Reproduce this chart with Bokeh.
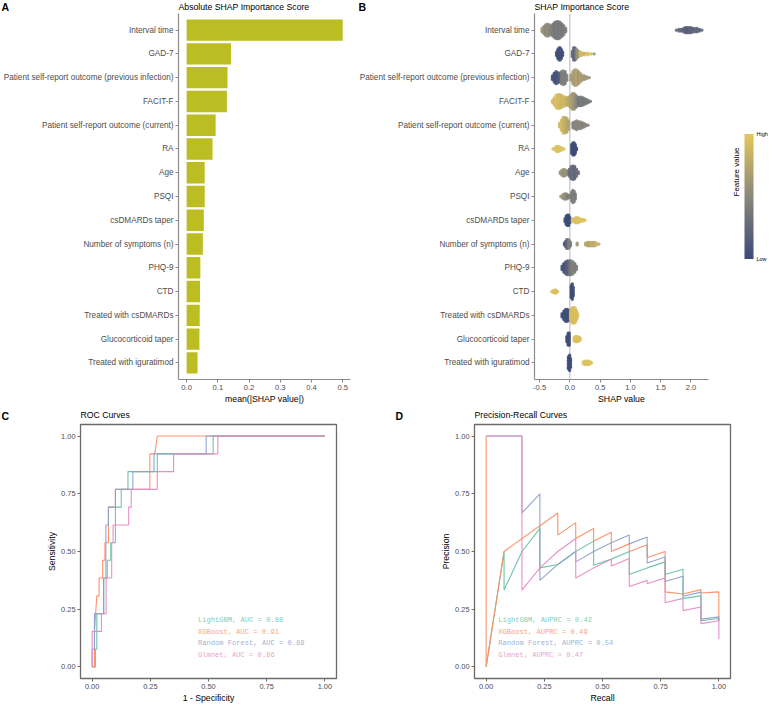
import math
from bokeh.plotting import figure
from bokeh.models import (FactorRange, Range1d, FixedTicker, PrintfTickFormatter,
                          Label, Span, ColorBar, LinearColorMapper, ColumnDataSource, CategoricalAxis)
from bokeh.layouts import column, row
from bokeh.embed import file_html
from bokeh.resources import INLINE
from bokeh.core.properties import value

FONT = "Liberation Sans"
MONO = "Liberation Mono"

# ---------------- data ----------------
features = ["Interval time", "GAD-7", "Patient self-report outcome (previous infection)",
            "FACIT-F", "Patient self-report outcome (current)", "RA", "Age", "PSQI",
            "csDMARDs taper", "Number of symptoms (n)", "PHQ-9", "CTD",
            "Treated with csDMARDs", "Glucocorticoid taper", "Treated with iguratimod"]
importance = [0.500, 0.142, 0.131, 0.129, 0.093, 0.083, 0.058, 0.058, 0.055, 0.052,
              0.044, 0.043, 0.042, 0.041, 0.035]
imp_ticks = [0.0, 0.1, 0.2, 0.3, 0.4, 0.5]
shap_ticks = [-0.5, 0.0, 0.5, 1.0, 1.5, 2.0]

panel_letters = ["A", "B", "C", "D"]
panel_titles = ["Absolute SHAP Importance Score", "SHAP Importance Score",
                "ROC Curves", "Precision-Recall Curves"]

# beeswarm: (SHAP value, number of stacked samples, scaled feature value)
sw_interval = [(-0.46, 3, 0.6), (-0.43, 5, 0.55), (-0.40, 7, 0.5), (-0.37, 8, 0.55), (-0.34, 7, 0.5),
               (-0.31, 6, 0.45), (-0.28, 8, 0.4), (-0.25, 10, 0.35), (-0.22, 11, 0.4), (-0.19, 11, 0.35),
               (-0.16, 10, 0.4), (-0.13, 8, 0.35), (-0.10, 6, 0.4), (-0.07, 3, 0.4),
               (1.76, 1, 0.25), (1.80, 2, 0.25), (1.84, 2, 0.2), (1.88, 3, 0.2), (1.91, 4, 0.2),
               (1.94, 4, 0.15), (1.97, 4, 0.2), (2.00, 4, 0.2), (2.03, 3, 0.2), (2.06, 3, 0.25),
               (2.10, 3, 0.2), (2.14, 2, 0.2), (2.18, 1, 0.25)]
sw_gad7 = [(-0.22, 3, 0.05), (-0.20, 6, 0.05), (-0.18, 8, 0.05), (-0.16, 8, 0.05), (-0.14, 6, 0.05),
           (-0.12, 3, 0.05), (0.04, 4, 0.2), (0.06, 8, 0.3), (0.08, 8, 0.2), (0.10, 7, 0.4),
           (0.12, 5, 0.6), (0.14, 4, 0.5), (0.16, 3, 0.8), (0.18, 3, 0.9), (0.21, 2, 0.9),
           (0.24, 2, 0.85), (0.27, 1, 0.9), (0.30, 2, 0.95), (0.35, 1, 0.9), (0.40, 1, 0.6)]
sw_prev = [(-0.29, 3, 0.05), (-0.26, 6, 0.05), (-0.23, 8, 0.05), (-0.20, 7, 0.1), (-0.17, 6, 0.15),
           (-0.14, 8, 0.4), (-0.11, 9, 0.45), (-0.08, 8, 0.4), (-0.05, 4, 0.45),
           (0.02, 4, 0.6), (0.05, 8, 0.7), (0.08, 10, 0.65), (0.11, 10, 0.75), (0.14, 8, 0.6),
           (0.17, 6, 0.7), (0.20, 4, 0.65), (0.24, 3, 0.6), (0.28, 2, 0.6), (0.32, 1, 0.6)]
sw_facit = [(-0.29, 2, 0.9), (-0.26, 5, 0.9), (-0.23, 8, 0.95), (-0.20, 9, 0.9), (-0.17, 9, 0.9),
            (-0.14, 8, 0.85), (-0.11, 7, 0.9), (-0.08, 6, 0.85), (-0.05, 5, 0.8), (-0.02, 6, 0.75),
            (0.01, 8, 0.7), (0.04, 10, 0.65), (0.07, 10, 0.6), (0.10, 8, 0.5), (0.13, 6, 0.4),
            (0.16, 6, 0.35), (0.19, 6, 0.4), (0.22, 5, 0.35), (0.25, 4, 0.4), (0.28, 3, 0.35),
            (0.31, 2, 0.4), (0.34, 1, 0.4)]
sw_current = [(-0.17, 3, 0.85), (-0.14, 7, 0.9), (-0.11, 10, 0.85), (-0.08, 10, 0.8), (-0.05, 9, 0.75),
              (-0.02, 6, 0.7), (0.05, 4, 0.45), (0.08, 5, 0.45), (0.11, 6, 0.5), (0.14, 5, 0.45),
              (0.17, 5, 0.5), (0.20, 4, 0.45), (0.23, 3, 0.45), (0.26, 2, 0.5), (0.30, 1, 0.45)]
sw_ra = [(-0.28, 1, 0.95), (-0.25, 2, 0.95), (-0.22, 4, 0.95), (-0.19, 4, 0.95), (-0.16, 3, 0.95),
         (-0.13, 2, 0.95), (-0.10, 1, 0.95), (0.03, 6, 0.02), (0.05, 8, 0.02), (0.07, 8, 0.02),
         (0.09, 6, 0.02), (0.11, 2, 0.02)]
sw_age = [(-0.16, 2, 0.6), (-0.13, 4, 0.6), (-0.10, 5, 0.55), (-0.07, 4, 0.6), (-0.04, 3, 0.5),
          (-0.01, 5, 0.3), (0.02, 8, 0.25), (0.05, 9, 0.3), (0.08, 8, 0.2), (0.11, 5, 0.3), (0.14, 2, 0.3)]
sw_psqi = [(-0.15, 1, 0.6), (-0.12, 3, 0.65), (-0.09, 4, 0.55), (-0.06, 4, 0.5), (-0.03, 3, 0.4),
           (0.00, 2, 0.45), (0.03, 6, 0.4), (0.05, 8, 0.4), (0.07, 7, 0.45), (0.09, 4, 0.4)]
sw_csdm_taper = [(-0.08, 3, 0.02), (-0.06, 6, 0.02), (-0.04, 7, 0.02), (-0.02, 7, 0.02), (0.00, 4, 0.02),
                 (0.04, 2, 0.95), (0.07, 3, 0.95), (0.10, 4, 0.95), (0.13, 4, 0.95), (0.16, 3, 0.95),
                 (0.19, 2, 0.95), (0.22, 2, 0.95), (0.25, 1, 0.95)]
sw_symptoms = [(-0.09, 2, 0.1), (-0.07, 4, 0.15), (-0.05, 6, 0.2), (-0.03, 6, 0.35), (-0.01, 5, 0.45),
               (0.01, 3, 0.4), (0.12, 2, 0.6), (0.26, 2, 0.7), (0.29, 3, 0.75), (0.32, 3, 0.7),
               (0.35, 3, 0.8), (0.38, 3, 0.75), (0.41, 3, 0.8), (0.44, 2, 0.85), (0.48, 1, 0.8)]
sw_phq9 = [(-0.13, 3, 0.05), (-0.10, 6, 0.05), (-0.07, 8, 0.1), (-0.04, 9, 0.15), (-0.01, 9, 0.3),
           (0.02, 9, 0.4), (0.05, 8, 0.45), (0.08, 6, 0.4), (0.11, 3, 0.45)]
sw_ctd = [(-0.30, 1, 0.95), (-0.28, 2, 0.95), (-0.26, 2, 0.95), (-0.24, 3, 0.95), (-0.22, 2, 0.95),
          (-0.20, 1, 0.95), (0.02, 8, 0.02), (0.04, 10, 0.02), (0.055, 6, 0.02)]
sw_csdm = [(-0.13, 3, 0.02), (-0.10, 6, 0.02), (-0.07, 8, 0.02), (-0.04, 8, 0.02), (-0.01, 6, 0.02),
           (0.01, 6, 0.95), (0.03, 9, 0.9), (0.05, 10, 0.95), (0.07, 10, 0.9), (0.09, 9, 0.95),
           (0.11, 6, 0.9), (0.13, 3, 0.95)]
sw_gc_taper = [(-0.05, 4, 0.02), (-0.03, 8, 0.02), (-0.01, 8, 0.02), (0.07, 3, 0.95), (0.09, 4, 0.95),
               (0.11, 4, 0.95), (0.13, 4, 0.95), (0.15, 3, 0.95), (0.17, 2, 0.95)]
sw_igu = [(-0.025, 8, 0.02), (-0.005, 10, 0.02), (0.01, 6, 0.02), (0.22, 2, 0.95), (0.25, 3, 0.95),
          (0.28, 3, 0.95), (0.31, 3, 0.95), (0.34, 2, 0.95), (0.36, 1, 0.95)]

# ROC curves
roc_lgbm_fpr = [0, 0.014, 0.014, 0.02, 0.02, 0.05, 0.05, 0.065, 0.065, 0.08, 0.08, 0.1, 0.1, 0.125, 0.125,
                0.154, 0.154, 0.28, 0.28, 0.52, 0.52, 1.0]
roc_lgbm_tpr = [0, 0, 0.077, 0.077, 0.231, 0.231, 0.385, 0.385, 0.462, 0.462, 0.538, 0.538, 0.692, 0.692,
                0.769, 0.769, 0.846, 0.846, 0.923, 0.923, 1.0, 1.0]
roc_xgb_fpr = [0, 0.01, 0.01, 0.015, 0.02, 0.03, 0.03, 0.045, 0.045, 0.055, 0.055, 0.07, 0.07, 0.1, 0.1,
               0.248, 0.248, 0.269, 0.28, 1.0]
roc_xgb_tpr = [0, 0, 0.154, 0.231, 0.308, 0.308, 0.385, 0.385, 0.462, 0.462, 0.538, 0.538, 0.692, 0.692,
               0.769, 0.769, 0.923, 0.923, 1.0, 1.0]
roc_rf_fpr = [0, 0, 0.01, 0.01, 0.049, 0.049, 0.059, 0.059, 0.07, 0.07, 0.1, 0.1, 0.175, 0.175, 0.266,
              0.266, 0.49, 0.49, 1.0]
roc_rf_tpr = [0, 0.077, 0.077, 0.231, 0.231, 0.385, 0.385, 0.615, 0.615, 0.692, 0.692, 0.769, 0.769,
              0.846, 0.846, 0.923, 0.923, 1.0, 1.0]
roc_glm_fpr = [0, 0, 0.04, 0.04, 0.06, 0.06, 0.084, 0.084, 0.09, 0.09, 0.157, 0.157, 0.168, 0.168, 0.28,
               0.28, 0.35, 0.35, 0.54, 0.54, 1.0]
roc_glm_tpr = [0, 0.154, 0.154, 0.231, 0.231, 0.385, 0.385, 0.538, 0.538, 0.615, 0.615, 0.692, 0.692,
               0.769, 0.769, 0.846, 0.846, 0.923, 0.923, 1.0, 1.0]

# Precision-recall curves
pr_lgbm_rec = [0, 0.077, 0.077, 0.154, 0.231, 0.231, 0.308, 0.385, 0.462, 0.462, 0.538, 0.615, 0.615,
               0.692, 0.769, 0.769, 0.846, 0.846, 0.923, 0.923, 1.0, 1.0]
pr_lgbm_prec = [0, 0.5, 0.333, 0.5, 0.6, 0.429, 0.444, 0.5, 0.545, 0.44, 0.467, 0.5, 0.4,
                0.429, 0.455, 0.4, 0.423, 0.297, 0.308, 0.2, 0.21, 0.2]
pr_xgb_rec = [0, 0, 0.077, 0.308, 0.308, 0.385, 0.385, 0.462, 0.462, 0.538, 0.538, 0.615, 0.615, 0.692,
              0.692, 0.769, 0.769, 0.846, 0.923, 0.923, 1.0, 1.0]
pr_xgb_prec = [1.0, 0, 0.5, 0.667, 0.571, 0.625, 0.556, 0.6, 0.545, 0.583, 0.5, 0.533, 0.5, 0.529,
               0.474, 0.5, 0.325, 0.316, 0.335, 0.32, 0.325, 0.2]
pr_rf_rec = [0, 0.154, 0.154, 0.231, 0.231, 0.308, 0.385, 0.385, 0.462, 0.538, 0.615, 0.615, 0.692,
             0.692, 0.769, 0.769, 0.846, 0.846, 0.923, 0.923, 1.0, 1.0]
pr_rf_prec = [1.0, 1.0, 0.667, 0.75, 0.375, 0.444, 0.5, 0.455, 0.5, 0.538, 0.571, 0.533, 0.5625,
              0.45, 0.476, 0.37, 0.393, 0.306, 0.324, 0.207, 0.217, 0.2]
pr_glm_rec = [0, 0.154, 0.154, 0.231, 0.308, 0.385, 0.385, 0.462, 0.538, 0.538, 0.615, 0.615, 0.692,
              0.692, 0.769, 0.769, 0.846, 0.846, 0.923, 0.923, 1.0, 1.0]
pr_glm_prec = [1.0, 1.0, 0.333, 0.429, 0.5, 0.556, 0.385, 0.429, 0.467, 0.4375, 0.47, 0.348, 0.375,
               0.36, 0.385, 0.278, 0.297, 0.244, 0.26, 0.1875, 0.2, 0.12]

models = ["LightGBM", "XGBoost", "Random Forest", "Glmnet"]
auc = [0.88, 0.91, 0.89, 0.86]
auprc = [0.42, 0.49, 0.54, 0.47]
model_colors = ["#66C2A5", "#FC8D62", "#8DA0CB", "#E78AC3"]
unit_ticks = [0.0, 0.25, 0.5, 0.75, 1.0]

# ---------------- helpers ----------------
def ramp(stops, n=256):
    out = []
    for i in range(n):
        t = i / (n - 1) * (len(stops) - 1)
        j = min(int(t), len(stops) - 2)
        f = t - j
        a, b = stops[j], stops[j + 1]
        rgb = [round(int(a[1 + 2 * k:3 + 2 * k], 16) * (1 - f) + int(b[1 + 2 * k:3 + 2 * k], 16) * f)
               for k in range(3)]
        out.append("#%02x%02x%02x" % tuple(rgb))
    return out


AX_COL = "#8c8c8c"
TICK_TXT = "#4d4d4d"
W = 768


def style_axes(p, tick_size="7.6px"):
    for ax in (p.xaxis, p.yaxis):
        ax.axis_line_color = AX_COL
        ax.axis_line_width = 1.2
        ax.major_tick_line_color = AX_COL
        ax.major_tick_out = 3
        ax.major_tick_in = 0
        ax.minor_tick_line_color = None
        ax.major_label_text_color = TICK_TXT
        ax.major_label_text_font = FONT
        ax.major_label_text_font_size = tick_size
        ax.major_label_standoff = 2
        ax.axis_label_text_font = FONT
        ax.axis_label_text_font_size = "8.7px"
        ax.axis_label_text_font_style = "normal"
        ax.axis_label_text_color = "black"
        ax.axis_label_standoff = 1
    p.xgrid.visible = False
    p.ygrid.visible = False
    p.background_fill_color = "white"
    p.border_fill_color = "white"


def header(h, letter_x, title_x, letters, titles, ymid):
    p = figure(width=W, height=h, x_range=Range1d(0, W), y_range=Range1d(0, h),
               min_border=0, x_axis_type=None, y_axis_type=None,
               output_backend="svg", toolbar_location=None, tools="")
    p.outline_line_color = None
    p.xgrid.visible = False
    p.ygrid.visible = False
    p.text(x=letter_x, y=[ymid] * len(letters), text=letters, text_font=value(FONT),
           text_font_size=value("10.5px"), text_font_style="bold", text_color="black",
           text_baseline="middle", text_align="left")
    p.text(x=title_x, y=[ymid + 0.5] * len(titles), text=titles, text_font=value(FONT),
           text_font_size=value("8.7px"), text_color="black",
           text_baseline="middle", text_align="left")
    return p


FH1 = 366
FH2 = 254
feat_rev = list(reversed(features))

# ---------------- Panel A ----------------
pA = figure(y_range=FactorRange(factors=feat_rev, range_padding=0.2, range_padding_units="absolute"),
            x_range=Range1d(-0.026, 0.525), frame_width=172, frame_height=FH1,
            min_border_left=178, min_border_right=6, min_border_top=0, min_border_bottom=24,
            output_backend="svg", toolbar_location=None, tools="")
pA.hbar(y=features, left=0, right=importance, height=0.9, fill_color="#BCBD22", line_color=None)
style_axes(pA)
pA.yaxis.major_label_text_font_size = "8.2px"
pA.xaxis.ticker = FixedTicker(ticks=imp_ticks)
pA.xaxis.formatter = PrintfTickFormatter(format="%.1f")
pA.xaxis.axis_label = "mean(|SHAP value|)"
pA.outline_line_color = None

# ---------------- Panel B ----------------
stops = ["#3B4A78", "#8A877B", "#E4C75B"]
mapper = LinearColorMapper(palette=ramp(stops), low=0, high=1)

swarms = [sw_interval, sw_gad7, sw_prev, sw_facit, sw_current, sw_ra, sw_age, sw_psqi,
          sw_csdm_taper, sw_symptoms, sw_phq9, sw_ctd, sw_csdm, sw_gc_taper, sw_igu]
DY = 0.072
xs, ys, fvs = [], [], []
for feat, bins in zip(features, swarms):
    for s, n, fv in bins:
        for k in range(n):
            xs.append(s)
            ys.append((feat, (k - (n - 1) / 2) * DY))
            fvs.append(fv)
src = ColumnDataSource(dict(x=xs, y=ys, fv=fvs))

pB = figure(y_range=FactorRange(factors=feat_rev, range_padding=0.2, range_padding_units="absolute"),
            x_range=Range1d(-0.585, 2.29), frame_width=174, frame_height=FH1,
            min_border_left=178, min_border_right=60, min_border_top=0, min_border_bottom=24,
            output_backend="svg", toolbar_location=None, tools="")
pB.add_layout(Span(location=0, dimension="height", line_color="#b5b5b5", line_width=1, level="underlay"))
pB.scatter(x="x", y="y", source=src, size=3.3, fill_color={"field": "fv", "transform": mapper},
           line_color=None, fill_alpha=0.9)
style_axes(pB)
pB.yaxis.major_label_text_font_size = "8.2px"
pB.xaxis.ticker = FixedTicker(ticks=shap_ticks)
pB.xaxis.formatter = PrintfTickFormatter(format="%.1f")
pB.xaxis.axis_label = "SHAP value"
pB.outline_line_color = None
cb = ColorBar(color_mapper=mapper, ticker=FixedTicker(ticks=[0, 1]),
              major_label_overrides={0: "Low", 1: "High"}, width=9, height=125,
              location=(174 + 36, (FH1 - 125) / 2), padding=0, margin=0,
              major_tick_line_color=None, bar_line_color=None, label_standoff=3,
              major_label_text_font_size="5.5px", major_label_text_font=FONT,
              major_label_text_color="black", background_fill_color=None)
pB.add_layout(cb, "center")
# an extra right-hand axis without ticks carries the colour-bar title
pB.extra_y_ranges = {"fv": FactorRange(factors=["fv"])}
fax = CategoricalAxis(y_range_name="fv", ticker=FixedTicker(ticks=[]), axis_line_color=None,
                      major_tick_line_color=None, minor_tick_line_color=None, major_tick_out=0,
                      major_label_standoff=0,
                      axis_label="Feature value", axis_label_standoff=28,
                      axis_label_text_font=FONT, axis_label_text_font_size="8px",
                      axis_label_text_font_style="normal", axis_label_text_color="black")
if "axis_label_orientation" in fax.properties():
    fax.axis_label_orientation = math.pi / 2
pB.add_layout(fax, "right")

# ---------------- Panel C / D ----------------
def curve_fig(left, right):
    p = figure(x_range=Range1d(-0.05, 1.05), y_range=Range1d(-0.05, 1.05), frame_width=256,
               frame_height=FH2, min_border_left=left, min_border_right=right, min_border_top=1,
               min_border_bottom=22, output_backend="svg", toolbar_location=None, tools="")
    style_axes(p, "7.4px")
    for ax in (p.xaxis, p.yaxis):
        ax.axis_line_color = None
        ax.major_tick_line_color = "#6b6b6b"
        ax.ticker = FixedTicker(ticks=unit_ticks)
        ax.formatter = PrintfTickFormatter(format="%.2f")
    p.outline_line_color = "#6b6b6b"
    p.outline_line_width = 1.3
    return p


pC = curve_fig(80, 48)
roc = [(roc_lgbm_fpr, roc_lgbm_tpr), (roc_xgb_fpr, roc_xgb_tpr), (roc_rf_fpr, roc_rf_tpr),
       (roc_glm_fpr, roc_glm_tpr)]
for (fx, fy), c in zip(roc, model_colors):
    pC.line(fx, fy, line_color=c, line_width=1.1, line_alpha=0.95)
pC.xaxis.axis_label = "1 - Specificity"
pC.yaxis.axis_label = "Sensitivity"
leg_y = [0.204, 0.153, 0.102, 0.051]
for m, a, c, yy in zip(models, auc, model_colors, leg_y):
    pC.add_layout(Label(x=0.455, y=yy, text="%s, AUC = %.2f" % (m, a), text_font_size="7.1px",
                        text_color=c, text_font=MONO, text_alpha=0.85, text_baseline="middle"))

pD = curve_fig(90, 38)
prs = [(pr_lgbm_rec, pr_lgbm_prec), (pr_xgb_rec, pr_xgb_prec), (pr_rf_rec, pr_rf_prec),
       (pr_glm_rec, pr_glm_prec)]
for (rx, ry), c in zip(prs, model_colors):
    pD.line(rx, ry, line_color=c, line_width=1.1, line_alpha=0.95)
pD.xaxis.axis_label = "Recall"
pD.yaxis.axis_label = "Precision"
for m, a, c, yy in zip(models, auprc, model_colors, leg_y):
    pD.add_layout(Label(x=0.052, y=yy, text="%s, AUPRC = %.2f" % (m, a), text_font_size="7.1px",
                        text_color=c, text_font=MONO, text_alpha=0.85, text_baseline="middle"))

# headers: letter and title rows (pixel positions across the row)
hTop = header(13, [1, 358], [178, 356 + 178], panel_letters[:2], panel_titles[:2], 6.5)
hBot = header(17, [1, 395], [80, 384 + 90], panel_letters[2:], panel_titles[2:], 8)

layout = column(hTop, row(pA, pB), hBot, row(pC, pD))
open("out.html", "w").write(file_html(layout, INLINE))
